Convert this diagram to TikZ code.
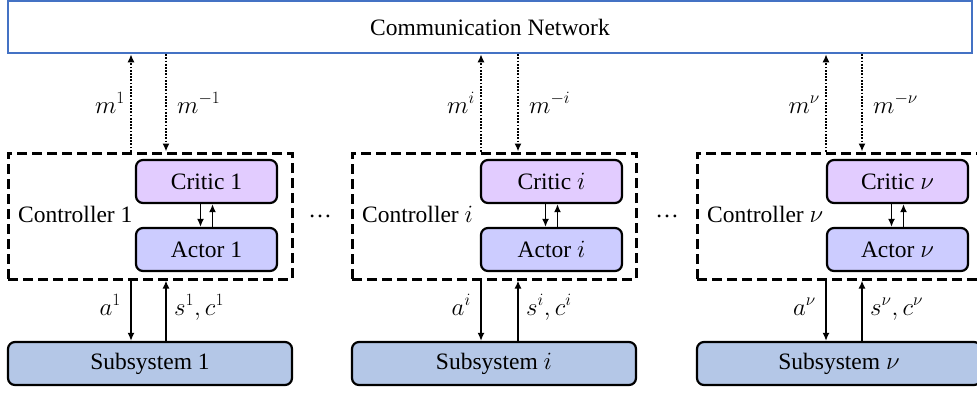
\documentclass[tikz,border=0pt]{standalone}
\usepackage{fontspec}
\setmainfont{Liberation Serif}
\usetikzlibrary{arrows.meta}
\definecolor{netblue}{HTML}{4472C4}
\definecolor{criticfill}{HTML}{E2CCFF}
\definecolor{actorfill}{HTML}{CCCCFF}
\definecolor{subfill}{HTML}{B4C7E7}
\begin{document}
\begin{tikzpicture}[x=1pt,y=-1pt,
  every node/.style={font=\fontsize{23.5}{28}\selectfont},
  box/.style={draw=black, line width=2.2pt, rounded corners=7pt, inner sep=0pt},
  critic/.style={box, fill=criticfill, minimum width=141pt, minimum height=43pt},
  actor/.style={box, fill=actorfill, minimum width=141pt, minimum height=43pt},
  subsys/.style={box, fill=subfill, minimum width=284pt, minimum height=43pt},
  ctrl/.style={draw, line width=3pt, dash pattern=on 10pt off 5pt, minimum width=284pt, minimum height=126pt, inner sep=0pt},
  arr/.style={line width=1.7pt, -{Latex[length=8pt,width=7pt]}},
  darr/.style={arr, dash pattern=on 1.7pt off 1.5pt},
  lab/.style={inner sep=0pt},
  mlab/.style={inner sep=0pt, font=\fontsize{26}{30}\selectfont}
]
\useasboundingbox (0,0) rectangle (977,392);
\clip (0,0) rectangle (977,392);

\node[draw=netblue, line width=2.5pt, minimum width=964pt, minimum height=52pt, inner sep=0pt] (net) at (490,27) {Communication Network};

\foreach \n/\cx/\kx/\ax/\bx/\t/\s in {1/8/136/131/166/1/1, 2/352/481/481/518/$i$/i, 3/697/827/826/862/$\nu$/\nu} {
  \node[ctrl] (ctrl\n) at (\cx+142,216) {};
  \node[critic] (critic\n) at (\kx+70.5,181.5) {Critic \t};
  \node[actor] (actor\n) at (\kx+70.5,249.5) {Actor \t};
  \node[subsys] (sub\n) at (\cx+142,363.5) {Subsystem \t};
  \node[lab, anchor=base west] (clab\n) at (\cx+10,222) {Controller \t};
  \coordinate (ax\n) at (\ax,0);
  \coordinate (bx\n) at (\bx,0);
  % network links
  \draw[darr] (ctrl\n.north -| ax\n) -- (net.south -| ax\n);
  \draw[darr] (net.south -| bx\n) -- (ctrl\n.north -| bx\n);
  \node[mlab, anchor=base east] (mo\n) at (\ax-6,113) {$m^{\s}$};
  \node[mlab, anchor=base west] (mi\n) at (\bx+11,113) {$m^{-\s}$};
  % subsystem links
  \draw[arr] (ctrl\n.south -| ax\n) -- (sub\n.north -| ax\n);
  \draw[arr] (sub\n.north -| bx\n) -- (ctrl\n.south -| bx\n);
  \node[mlab, anchor=base east] (al\n) at (\ax-10,315) {$a^{\s}$};
  \node[mlab, anchor=base west] (sl\n) at (\bx+8,315) {$s^{\s},c^{\s}$};
  % critic-actor
  \draw[arr] ([xshift=-6pt]critic\n.south) -- ([xshift=-6pt]actor\n.north);
  \draw[arr] ([xshift=6pt]actor\n.north) -- ([xshift=6pt]critic\n.south);
}

\node[lab] (dots1) at (320,216) {\dots};
\node[lab] (dots2) at (667,216) {\dots};
\end{tikzpicture}
\end{document}
